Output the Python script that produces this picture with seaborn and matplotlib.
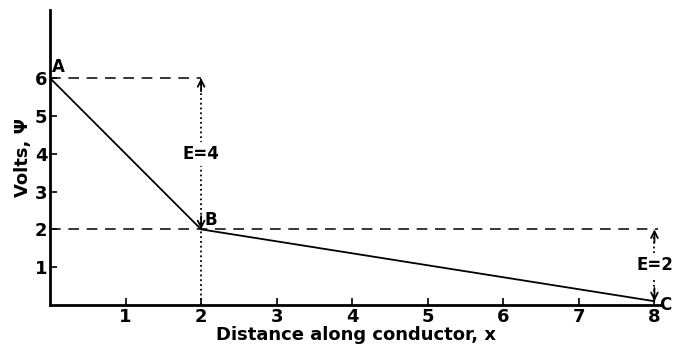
import matplotlib
matplotlib.use('Agg')
import matplotlib.pyplot as plt
import seaborn as sns
import pandas as pd

sns.set_style('ticks')
plt.rcParams['font.family'] = ['DejaVu Sans']
plt.rcParams['text.color'] = 'black'
plt.rcParams['axes.labelcolor'] = 'black'
plt.rcParams['xtick.color'] = 'black'
plt.rcParams['ytick.color'] = 'black'
plt.rcParams['axes.edgecolor'] = 'black'

# data
distance = [0, 2, 8]
volts = [6, 2, 0.1]
point_names = ['A', 'B', 'C']
x_ticks = [1, 2, 3, 4, 5, 6, 7, 8]
y_ticks = [1, 2, 3, 4, 5, 6]
drops = [(2, 6, 2, 'E=4'), (8, 2, 0.1, 'E=2')]

df = pd.DataFrame({'x': distance, 'v': volts})

fig = plt.figure(figsize=(6.76, 3.5), dpi=100)
ax = fig.add_axes([50 / 676, 45 / 350, 612 / 676, 295 / 350])

sns.lineplot(data=df, x='x', y='v', ax=ax, color='black', lw=1.3)

# dashed reference lines
ax.plot([0, 2], [6, 6], ls=(0, (7, 5)), color='black', lw=1.1)
ax.plot([0, 8.05], [2, 2], ls=(0, (7, 5)), color='black', lw=1.1)

# E arrows: dotted shaft, solid heads
for xp, top, bot, lab in drops:
    mid = (top + bot) / 2
    ax.plot([xp, xp], [bot, top], ls=':', color='black', lw=1.3)
    for end, sgn in [(top, -1), (bot, 1)]:
        ax.annotate('', xy=(xp, end), xytext=(xp, end + sgn * 0.35),
                    arrowprops=dict(arrowstyle='->', lw=1.3, color='black',
                                    mutation_scale=12, shrinkA=0, shrinkB=0))
    ax.text(xp, mid, lab, ha='center', va='center', fontsize=12, fontweight='bold',
            bbox=dict(facecolor='white', edgecolor='none', pad=2))
# dotted drop from B to the axis
ax.plot([2, 2], [0, 2], ls=':', color='black', lw=1.3)

# point names
ax.text(distance[0] + 0.03, volts[0] + 0.05, point_names[0], fontsize=12, fontweight='bold', va='bottom')
ax.text(distance[1] + 0.04, volts[1] + 0.02, point_names[1], fontsize=12, fontweight='bold', va='bottom')
ax.text(distance[2] + 0.06, volts[2] - 0.1, point_names[2], fontsize=12, fontweight='bold', va='center')

ax.set_xlim(0, 8.1)
ax.set_ylim(0, 7.8)
ax.set_xticks(x_ticks)
ax.set_yticks(y_ticks)
ax.tick_params(direction='in', length=5, width=1.2, labelsize=13, pad=2)
for t in ax.get_xticklabels() + ax.get_yticklabels():
    t.set_fontweight('bold')
ax.set_xlabel('Distance along conductor, x', fontsize=13, fontweight='bold', labelpad=0)
ax.set_ylabel('Volts, Ψ', fontsize=13, fontweight='bold', labelpad=2)

sns.despine(ax=ax)
for s in ['left', 'bottom']:
    ax.spines[s].set_linewidth(2)

fig.savefig('out.png', dpi=100)
